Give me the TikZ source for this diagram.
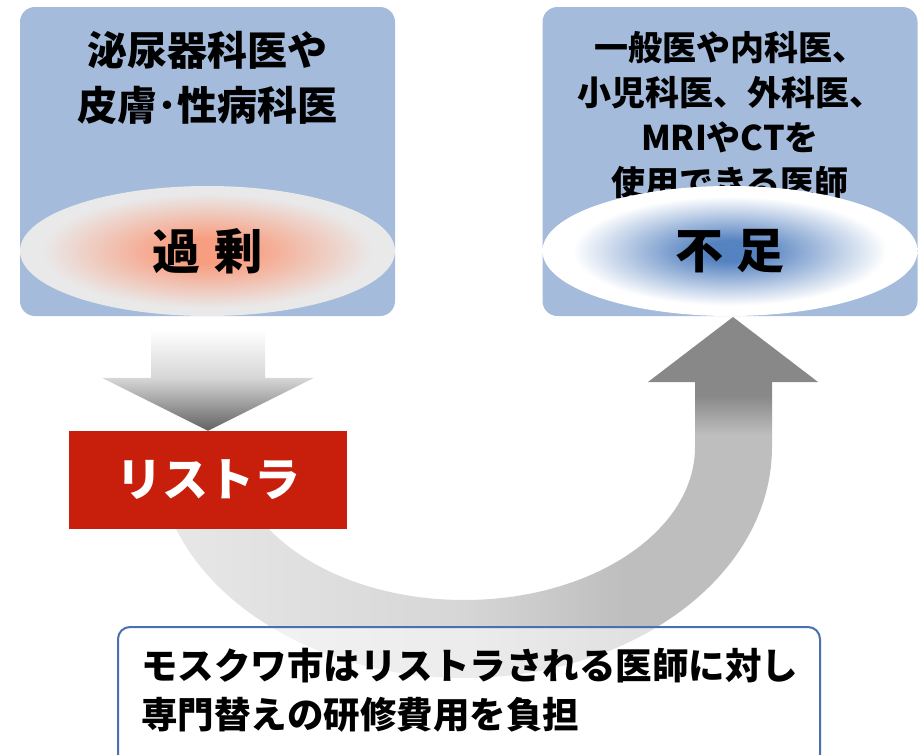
\documentclass[tikz,border=0pt]{standalone}
\usepackage{fontspec}
\setmainfont{Noto Sans CJK JP}
\usetikzlibrary{shapes.geometric,calc}
\definecolor{boxblue}{HTML}{A4BBDC}
\definecolor{salmon}{HTML}{F89E80}
\definecolor{lgray}{HTML}{E9E9E9}
\definecolor{cblue}{HTML}{5582C0}
\definecolor{redbox}{HTML}{C81F0D}
\definecolor{frameblue}{HTML}{4A70AF}
\definecolor{dkgray}{HTML}{626262}
\definecolor{mdgray}{HTML}{D6D6D6}
\definecolor{upgray}{HTML}{888888}
\definecolor{bandgray}{HTML}{BEBEBE}
\definecolor{bandlight}{HTML}{E8E8E8}
\definecolor{bandmid}{HTML}{D6D6D6}
\pgfdeclareradialshading{lshade}{\pgfpoint{0bp}{0bp}}{color(0bp)=(salmon); color(5bp)=(salmon); color(22bp)=(lgray); color(50bp)=(lgray)}
\pgfdeclareradialshading{rshade}{\pgfpoint{0bp}{0bp}}{color(0bp)=(cblue); color(4bp)=(cblue); color(21bp)=(white); color(50bp)=(white)}
\pgfdeclareverticalshading{downshade}{100bp}{color(0bp)=(dkgray); color(25bp)=(dkgray); color(51bp)=(mdgray); color(75bp)=(white); color(100bp)=(white)}
\pgfdeclareverticalshading{upshade}{100bp}{color(0bp)=(bandgray); color(30bp)=(bandgray); color(45bp)=(upgray); color(100bp)=(upgray)}
\pgfdeclarehorizontalshading{bandshade}{100bp}{color(0bp)=(bandlight); color(25bp)=(bandlight); color(50bp)=(bandmid); color(63bp)=(bandgray); color(100bp)=(bandgray)}
\tikzset{
  panel/.style={fill=boxblue, draw=none, rounded corners=15pt, minimum width=375pt, minimum height=309pt, inner sep=0pt},
  oval/.style={ellipse, draw=none, minimum width=375pt, minimum height=130pt, inner sep=0pt, font=\bfseries\fontsize{48}{50}\selectfont},
  paneltext/.style={align=center, inner sep=0pt, font=\bfseries},
}
\begin{document}
\begin{tikzpicture}[x=1pt,y=-1pt]
\useasboundingbox (0,0) rectangle (921,755);
\clip (0,0) rectangle (921,755);
% panels
\node[panel] (lbox) at (207.5,161.5) {};
\node[panel] (rbox) at (730,161.5) {};
\node[paneltext, font=\bfseries\fontsize{40}{55}\selectfont] (ltext) at (207.5,78) {泌尿器科医や\\皮膚･性病科医};
\node[paneltext, font=\bfseries\fontsize{34}{45}\selectfont] (rtext) at (730,115) {一般医や内科医、\\小児科医、外科医、\\MRIやCTを\\使用できる医師};
\node[oval, shading=lshade] (lell) at (207.5,251) {過\hspace{14pt}剰};
\node[oval, shading=rshade] (rell) at (730,251) {不\hspace{14pt}足};
% curved band
\coordinate (bandL) at (156,447);
\coordinate (bandIR) at (695,447);
\path[shading=bandshade] (bandL) arc[start angle=180, end angle=360, x radius=308pt, y radius=231pt]
  -- (bandIR) arc[start angle=0, end angle=-180, x radius=231pt, y radius=153pt] -- cycle;
% up arrow head and shaft
\coordinate (uptip) at (733,317);
\path[shading=upshade] (uptip) -- ++(85,65) -- ++(-46,0) -- ++(0,66) -- ++(-77,0) -- ++(0,-66) -- ++(-47,0) -- cycle;
% red box
\node[fill=redbox, minimum width=278pt, minimum height=98pt, inner sep=0pt, text=white, font=\bfseries\fontsize{46}{48}\selectfont] (rbx) at (208,480) {リストラ};
% down arrow
\path[shading=downshade] (rbx.north) -- ++(-106,-53) -- ++(49,0) -- ++(0,-48) -- ++(114,0) -- ++(0,48) -- ++(49,0) -- cycle;
% bottom box
\path[fill=white, fill opacity=0.55, draw=frameblue, line width=2pt, rounded corners=12pt] (118,627) rectangle (820,790);
\node[anchor=west, align=left, inner sep=0pt, font=\bfseries\fontsize{36.5}{49}\selectfont] (btext) at (141,690) {モスクワ市はリストラされる医師に対し\\専門替えの研修費用を負担};
\end{tikzpicture}
\end{document}
